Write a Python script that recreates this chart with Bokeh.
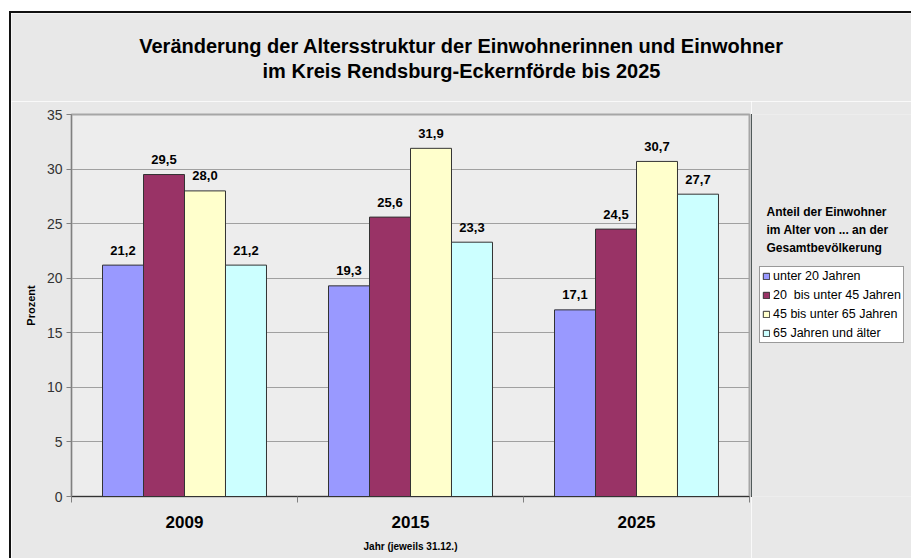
from bokeh.plotting import figure
from bokeh.layouts import column, row
from bokeh.models import (FixedTicker, Label, Legend, LegendItem, ColumnDataSource, Range1d)
from bokeh.embed import file_html
from bokeh.resources import INLINE

# ---- data ----
years = ["2009", "2015", "2025"]
series_names = ["unter 20 Jahren", "20  bis unter 45 Jahren", "45 bis unter 65 Jahren", "65 Jahren und älter"]
unter20 = [21.2, 19.3, 17.1]
bis45 = [29.5, 25.6, 24.5]
bis65 = [28.0, 31.9, 30.7]
ab65 = [21.2, 23.3, 27.7]
colors = ["#9999FF", "#993366", "#FFFFCC", "#CCFFFF"]
y_ticks = [0, 5, 10, 15, 20, 25, 30, 35]
title_lines = ["Veränderung der Altersstruktur der Einwohnerinnen und Einwohner",
               "im Kreis Rendsburg-Eckernförde bis 2025"]
legend_title = ["Anteil der Einwohner", "im Alter von ... an der", "Gesamtbevölkerung"]

FONT = "Liberation Sans"
BG = "#E8E8E8"
TOP_H = 88


def blank_fig(w, h, xr=(0, 1)):
    f = figure(width=w, height=h, output_backend="svg", toolbar_location=None,
               x_range=Range1d(*xr), y_range=Range1d(0, 1),
               x_axis_location=None, y_axis_location=None,
               min_border_left=0, min_border_right=0, min_border_top=0, min_border_bottom=0)
    f.grid.visible = False
    f.background_fill_color = BG
    f.border_fill_color = BG
    f.outline_line_color = None
    return f


# ---- title figure ----
top = blank_fig(900, TOP_H)
for j, t in enumerate(title_lines):
    top.add_layout(Label(x=450, y=TOP_H - 32 - 25 * j, x_units="screen", y_units="screen", text=t,
                         text_align="center", text_baseline="middle", text_font=FONT,
                         text_font_style="bold", text_font_size="20px", text_color="#000000"))

# ---- main chart ----
MAIN_H = 545 - TOP_H
p = figure(width=740, height=MAIN_H, output_backend="svg", toolbar_location=None,
           x_range=Range1d(0, 3), y_range=Range1d(0, 35),
           min_border_left=60, min_border_right=2, min_border_top=101 - TOP_H, min_border_bottom=62)
p.background_fill_color = "#EDEDED"
p.border_fill_color = BG
p.outline_line_color = "#A6A6A6"
p.outline_line_width = 2

bw = 0.1814
series = [unter20, bis45, bis65, ab65]
for k, (vals, c) in enumerate(zip(series, colors)):
    xs = [i + 0.5 + (k - 1.5) * bw for i in range(len(years))]
    src = ColumnDataSource(dict(x=xs, top=vals, lab=[f"{v:.1f}".replace(".", ",") for v in vals]))
    p.vbar(x="x", top="top", width=bw, bottom=0, source=src, fill_color=c,
           line_color="#333333", line_width=1)
    p.text(x="x", y="top", text="lab", source=src, text_align="center", text_baseline="alphabetic",
           y_offset=-15, text_font={"value": FONT}, text_font_style="bold", text_font_size="13px",
           text_color="#000000")

xa = p.xaxis[0]
xa.ticker = FixedTicker(ticks=[i + 0.5 for i in range(len(years))], minor_ticks=list(range(len(years) + 1)))
xa.major_label_overrides = {i + 0.5: y for i, y in enumerate(years)}
xa.major_tick_out = 0
xa.major_tick_in = 0
xa.minor_tick_out = 6
xa.minor_tick_in = 0
xa.minor_tick_line_color = "#808080"
xa.axis_line_color = "#333333"
xa.major_label_text_font = FONT
xa.major_label_text_font_style = "bold"
xa.major_label_text_font_size = "17px"
xa.major_label_text_color = "#000000"
xa.major_label_standoff = 13
xa.axis_label = "Jahr (jeweils 31.12.)"
xa.axis_label_text_font = FONT
xa.axis_label_text_font_style = "bold"
xa.axis_label_text_font_size = "10px"
xa.axis_label_text_color = "#000000"
xa.axis_label_standoff = 10

ya = p.yaxis[0]
ya.ticker = FixedTicker(ticks=y_ticks)
ya.minor_tick_line_color = None
ya.major_tick_out = 5
ya.major_tick_in = 0
ya.major_tick_line_color = "#808080"
ya.axis_line_color = "#808080"
ya.major_label_text_font = FONT
ya.major_label_text_font_size = "14px"
ya.major_label_text_color = "#333333"
ya.major_label_standoff = 4
ya.axis_label = "Prozent"
ya.axis_label_text_font = FONT
ya.axis_label_text_font_style = "bold"
ya.axis_label_text_font_size = "11px"
ya.axis_label_text_color = "#000000"
ya.axis_label_standoff = 7

p.xgrid.grid_line_color = None
p.ygrid.grid_line_color = "#A0A0A0"
p.ygrid.ticker = FixedTicker(ticks=y_ticks)

# ---- legend side figure ----
# proxies plot the real series at their category positions, outside this panel's visible x range
side = blank_fig(160, MAIN_H, xr=(100, 101))
for j, t in enumerate(legend_title):
    side.add_layout(Label(x=15, y=285 - 18 * j, x_units="screen", y_units="screen", text=t,
                          text_align="left", text_baseline="middle", text_font=FONT,
                          text_font_style="bold", text_font_size="12px", text_color="#000000"))
items = []
for vals, c, name in zip(series, colors, series_names):
    r = side.vbar(x=[i + 0.5 for i in range(len(years))], top=vals, width=0.1,
                  fill_color=c, line_color="#333333")
    items.append(LegendItem(label=name, renderers=[r]))
legend = Legend(items=items, location=(8, 153))
legend.background_fill_color = "#FFFFFF"
legend.background_fill_alpha = 1
legend.border_line_color = "#333333"
legend.border_line_width = 1
legend.label_text_font = FONT
legend.label_text_font_size = "12.5px"
legend.label_text_color = "#000000"
legend.glyph_height = 8
legend.glyph_width = 8
legend.label_height = 14
legend.label_standoff = 3
legend.spacing = 5
legend.padding = 2
legend.margin = 0
side.add_layout(legend, "center")

layout = column(top, row(p, side, spacing=0), spacing=0, margin=(11, 0, 0, 9))
layout.styles = {"border-left": "2px solid #111111", "border-top": "2px solid #111111"}

open("out.html", "w").write(file_html(layout, INLINE))
